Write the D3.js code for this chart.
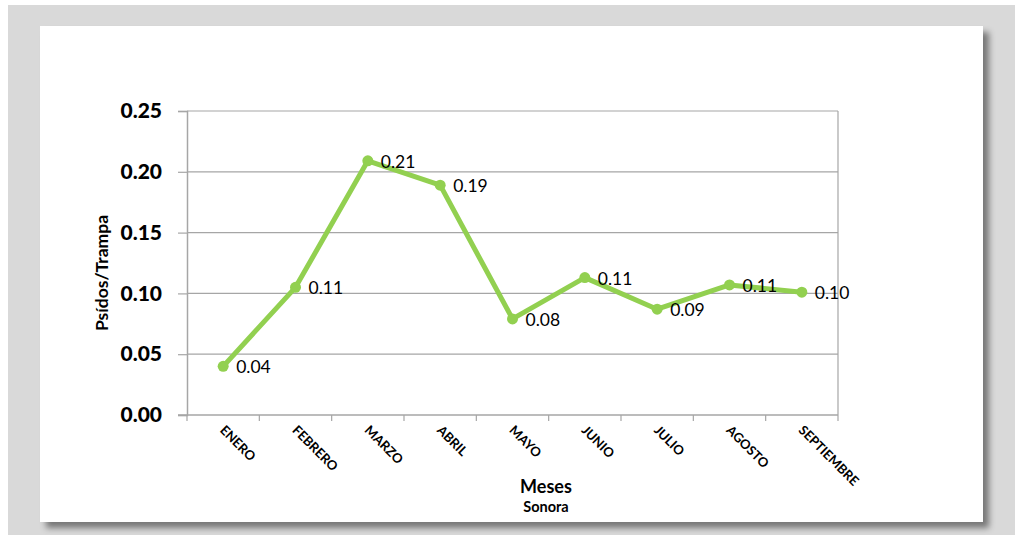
<!DOCTYPE html>
<html>
<head>
<meta charset="utf-8">
<script src="https://cdn.jsdelivr.net/npm/d3@7.9.0/dist/d3.min.js"></script>
<style>
  body { margin: 0; background: #fff; }
  svg { display: block; font-family: Lato, "Open Sans", sans-serif; }
</style>
</head>
<body>
<svg id="chart" width="1015" height="535"></svg>
<script>
// data
const months = ['ENERO', 'FEBRERO', 'MARZO', 'ABRIL', 'MAYO', 'JUNIO', 'JULIO', 'AGOSTO', 'SEPTIEMBRE'];
const values = [0.040, 0.105, 0.209, 0.189, 0.079, 0.113, 0.087, 0.107, 0.101];
const valueLabels = ['0.04', '0.11', '0.21', '0.19', '0.08', '0.11', '0.09', '0.11', '0.10'];
const yTicks = [0, 0.05, 0.10, 0.15, 0.20, 0.25];

const svg = d3.select('#chart');

// gray frame + white card with a soft shadow
const defs = svg.append('defs');
const f = defs.append('filter').attr('id', 'shadow')
  .attr('x', '-5%').attr('y', '-5%').attr('width', '110%').attr('height', '115%');
f.append('feDropShadow').attr('dx', 6).attr('dy', 6).attr('stdDeviation', 3)
  .attr('flood-color', '#000').attr('flood-opacity', 0.45);

svg.append('rect').attr('x', 8).attr('y', 5).attr('width', 1007).attr('height', 530).attr('fill', '#d9d9d9');
svg.append('rect').attr('x', 40).attr('y', 26).attr('width', 943).attr('height', 496)
  .attr('fill', '#fff').attr('filter', 'url(#shadow)');

const plot = { left: 187, right: 838, top: 111, bottom: 415 };

const x = d3.scaleBand().domain(months).range([plot.left, plot.right]);
const y = d3.scaleLinear().domain([0, 0.25]).range([plot.bottom, plot.top]);

// horizontal gridlines
svg.append('g')
  .selectAll('line')
  .data(yTicks.filter(d => d > 0))
  .join('line')
    .attr('x1', plot.left).attr('x2', plot.right)
    .attr('y1', d => y(d)).attr('y2', d => y(d))
    .attr('stroke', '#a6a6a6').attr('stroke-width', 1.2);

// right border of plot area
svg.append('line')
  .attr('x1', plot.right).attr('x2', plot.right)
  .attr('y1', plot.top).attr('y2', plot.bottom)
  .attr('stroke', '#a6a6a6').attr('stroke-width', 1.2);

// y axis
const yAxis = svg.append('g')
  .attr('transform', `translate(${plot.left},0)`)
  .call(d3.axisLeft(y).tickValues(yTicks).tickFormat(d3.format('.2f')).tickSize(9).tickPadding(16));
yAxis.select('.domain').attr('stroke', '#a6a6a6').attr('stroke-width', 1.5);
yAxis.selectAll('.tick line').attr('stroke', '#a6a6a6').attr('stroke-width', 1.2);
yAxis.selectAll('.tick text')
  .attr('font-size', 21).attr('font-weight', 900).attr('fill', '#000')
  .attr('font-family', 'Lato, sans-serif');

// x axis: ticks at band boundaries
const xAxisG = svg.append('g');
xAxisG.append('line')
  .attr('x1', plot.left - 9).attr('x2', plot.right)
  .attr('y1', plot.bottom).attr('y2', plot.bottom)
  .attr('stroke', '#a6a6a6').attr('stroke-width', 1.5);
xAxisG.selectAll('line.tk')
  .data(months.concat(['_end']))
  .join('line')
    .attr('class', 'tk')
    .attr('x1', (d, i) => i < months.length ? x(d) : plot.right)
    .attr('x2', (d, i) => i < months.length ? x(d) : plot.right)
    .attr('y1', plot.bottom).attr('y2', plot.bottom + 6)
    .attr('stroke', '#a6a6a6').attr('stroke-width', 1.2);

xAxisG.selectAll('text')
  .data(months)
  .join('text')
    .attr('transform', d => `translate(${x(d) + x.bandwidth() / 2 - 4},${plot.bottom + 16}) rotate(45)`)
    .attr('font-size', 13).attr('font-weight', 'bold')
    .attr('text-anchor', 'start')
    .text(d => d);

// axis titles
svg.append('text')
  .attr('transform', `translate(108,${(plot.top + plot.bottom) / 2 + 10}) rotate(-90)`)
  .attr('text-anchor', 'middle')
  .attr('font-size', 17.5).attr('font-weight', 'bold')
  .text('Psídos/Trampa');

svg.append('text')
  .attr('x', 546).attr('y', 493)
  .attr('text-anchor', 'middle')
  .attr('font-size', 18).attr('font-weight', 'bold')
  .text('Meses');

svg.append('text')
  .attr('x', 546).attr('y', 512)
  .attr('text-anchor', 'middle')
  .attr('font-size', 14.5).attr('font-weight', 'bold')
  .text('Sonora');

// line + markers
const cx = d => x(d) + x.bandwidth() / 2;
const line = d3.line()
  .x((d, i) => cx(months[i]))
  .y(d => y(d));

svg.append('path')
  .datum(values)
  .attr('d', line)
  .attr('fill', 'none')
  .attr('stroke', '#92d050')
  .attr('stroke-width', 5)
  .attr('stroke-linejoin', 'round');

svg.append('g')
  .selectAll('circle')
  .data(values)
  .join('circle')
    .attr('cx', (d, i) => cx(months[i]))
    .attr('cy', d => y(d))
    .attr('r', 5.5)
    .attr('fill', '#92d050');

// data labels
svg.append('g')
  .selectAll('text')
  .data(values)
  .join('text')
    .attr('x', (d, i) => cx(months[i]) + 13)
    .attr('y', d => y(d))
    .attr('dy', '0.4em')
    .attr('font-size', 17.5)
    .attr('fill', '#000')
    .text((d, i) => valueLabels[i]);
</script>
</body>
</html>
